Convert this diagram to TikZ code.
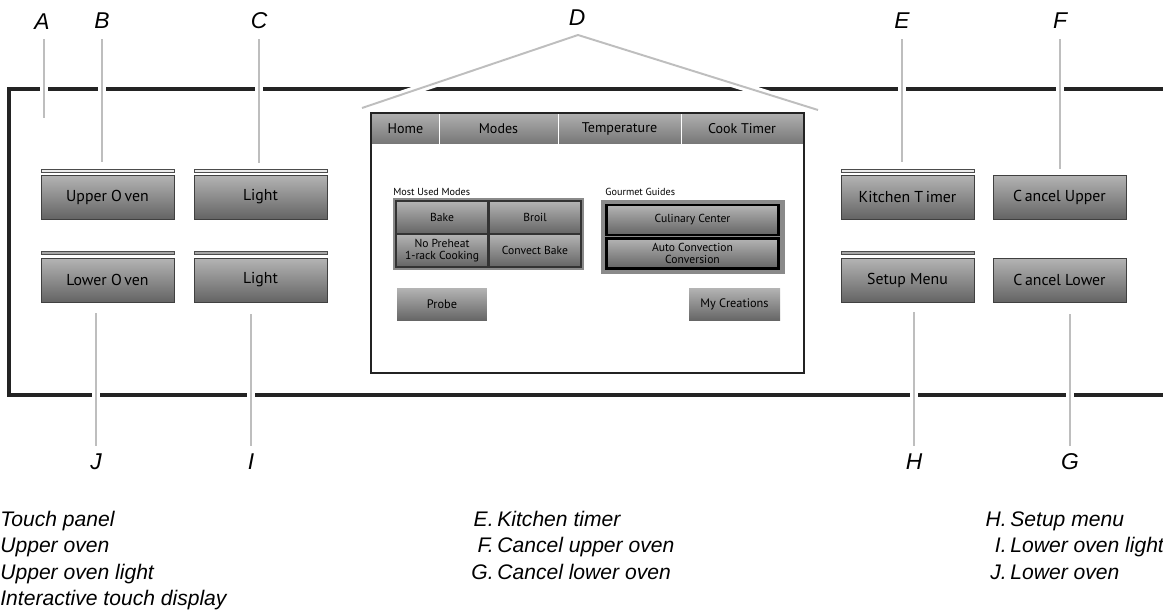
\documentclass[tikz,border=0pt]{standalone}
\usepackage{fontspec}
\setmainfont{Liberation Sans}
\newfontfamily\btnfont{PT Sans}
\usepackage{tikz}
\usepackage{xcolor}
\usetikzlibrary{positioning, calc}

\definecolor{btntop}{HTML}{B4B4B4}
\definecolor{btnbot}{HTML}{646464}
\definecolor{tabtop}{HTML}{B0B0B0}
\definecolor{tabbot}{HTML}{767676}
\definecolor{leadgray}{HTML}{BEBEBE}
\definecolor{groupgray}{HTML}{8A8A8A}
\definecolor{framegray}{HTML}{232323}

\begin{document}
\begin{tikzpicture}[x=0.02cm, y=-0.02cm,
  lab/.style={font=\itshape\fontsize{13}{15}\selectfont, inner sep=0pt},
  leg/.style={font=\itshape\fontsize{12}{14}\selectfont, inner sep=0pt},
  lead/.style={draw=leadgray, line width=1.1pt, line join=round,
    preaction={draw=white, line width=4.6pt}},
  btn/.style={draw=black!75, line width=0.5pt, top color=btntop, bottom color=btnbot,
    font=\btnfont\fontsize{9}{10}\selectfont, minimum width=2.66cm, minimum height=0.88cm, inner sep=0pt},
  barlight/.style={draw=black!70, fill=gray!15, line width=0.4pt, minimum width=2.66cm, minimum height=0.06cm, inner sep=0pt},
  bardark/.style={draw=black!70, fill=gray!70, line width=0.4pt, minimum width=2.66cm, minimum height=0.06cm, inner sep=0pt},
  tab/.style={top color=tabtop, bottom color=tabbot, minimum height=0.62cm, inner sep=0pt,
    font=\btnfont\fontsize{8}{9}\selectfont},
  minibtn/.style={draw=black!80, line width=0.6pt, top color=btntop, bottom color=btnbot,
    minimum width=1.84cm, minimum height=0.66cm, inner sep=0pt, align=center,
    font=\btnfont\fontsize{6.6}{7.2}\selectfont},
  guidebtn/.style={draw=black, line width=1.6pt, top color=btntop, bottom color=btnbot,
    minimum width=3.44cm, minimum height=0.6cm, inner sep=0pt, align=center,
    font=\btnfont\fontsize{6.6}{7.2}\selectfont},
  grouplbl/.style={font=\btnfont\fontsize{5.8}{6.5}\selectfont, inner sep=0pt, anchor=west}]
\useasboundingbox (0,0) rectangle (1163,611);
\clip (0,0) rectangle (1163,611);

% Panel frame
\draw[framegray, line width=1.8pt] (1170,89) -- (9,89) -- (9,395) -- (1170,395);

% Left buttons
\node[barlight] (upperbar) at (107.5,170.5) {};
\node[barlight] (lightbar) at (260.5,170.5) {};
\node[btn] (upperoven) at (107.5,197) {Upper O\,ven};
\node[btn] (upperlight) at (260.5,197) {Light};
\node[bardark] (lowerbar) at (107.5,253) {};
\node[bardark] (lowlightbar) at (260.5,253) {};
\node[btn] (loweroven) at (107.5,280) {Lower O\,ven};
\node[btn] (lowerlight) at (260.5,280) {Light};

% Right buttons
\node[barlight] (timerbar) at (907.5,170.5) {};
\node[btn] (kitchentimer) at (907.5,197) {Kitchen T\,imer};
\node[btn] (cancelupper) at (1059.5,197) {C\,ancel Upper};
\node[bardark] (setupbar) at (907.5,253) {};
\node[btn] (setupmenu) at (907.5,280) {Setup Menu};
\node[btn] (cancellower) at (1059.5,280) {C\,ancel Lower};

% Touch display
\node[tab, minimum width=1.34cm] (tabhome) at (405.5,128.5) {Home};
\node[tab, minimum width=2.38cm] (tabmodes) at (498.5,128.5) {Modes};
\node[tab, minimum width=2.46cm] (tabtemp) at (619.5,128.5) {Temperature};
\node[tab, minimum width=2.44cm] (tabtimer) at (742,128.5) {Cook Timer};
\draw[white, line width=0.8pt] (tabhome.north east) -- (tabhome.south east);
\draw[white, line width=0.8pt] (tabmodes.north east) -- (tabmodes.south east);
\draw[white, line width=0.8pt] (tabtemp.north east) -- (tabtemp.south east);
\node[draw=framegray, line width=1.2pt, minimum width=8.66cm, minimum height=5.2cm, inner sep=0pt] (display) at (587.5,243) {};

\node[grouplbl] (modeslbl) at (393,192) {Most Used Modes};
\node[fill=groupgray, minimum width=3.82cm, minimum height=1.44cm, inner sep=0pt] (modesbox) at (488.5,234) {};
\node[minibtn] (bake) at (442,217.5) {Bake};
\node[minibtn] (broil) at (535,217.5) {Broil};
\node[minibtn] (nopreheat) at (442,250.5) {No Preheat\\1-rack Cooking};
\node[minibtn] (convect) at (535,250.5) {Convect Bake};

\node[grouplbl] (guideslbl) at (605,192) {Gourmet Guides};
\node[fill=groupgray, minimum width=3.68cm, minimum height=1.48cm, inner sep=0pt] (guidesbox) at (693,237) {};
\node[guidebtn] (culinary) at (692.5,220) {Culinary Center};
\node[guidebtn] (autoconv) at (692.5,253.5) {Auto Convection\\Conversion};

\node[minibtn, draw=none, minimum width=1.8cm, font=\btnfont\fontsize{7}{8}\selectfont] (probe) at (442,304.5) {Probe};
\node[minibtn, draw=none, minimum width=1.82cm, font=\btnfont\fontsize{7}{8}\selectfont] (mycreations) at (734.5,304.5) {My Creations};

% Letter labels
\node[lab] (labA) at (42,22) {A};
\node[lab] (labB) at (102,21) {B};
\node[lab] (labC) at (259,21) {C};
\node[lab] (labD) at (577,18) {D};
\node[lab] (labE) at (902,21) {E};
\node[lab] (labF) at (1060,21) {F};
\node[lab] (labJ) at (96,462) {J};
\node[lab] (labI) at (251,462) {I};
\node[lab] (labH) at (914,462) {H};
\node[lab] (labG) at (1070,462) {G};

% Leader lines
\coordinate (panelpt) at (44,118);
\coordinate (dapex) at (578,35);
\coordinate (dleft) at (362,108);
\coordinate (dright) at (818,110);
\draw[lead, shorten <=0.18cm] (labA.south -| panelpt) -- (panelpt);
\draw[lead, shorten <=0.2cm, shorten >=0.14cm] (labB.south) -- (labB.south |- upperbar.north);
\draw[lead, shorten <=0.2cm, shorten >=0.12cm] (labC.south) -- (labC.south |- lightbar.north);
\draw[lead] (dleft) -- (dapex) -- (dright);
\draw[lead, shorten <=0.2cm, shorten >=0.14cm] (labE.south) -- (labE.south |- timerbar.north);
\draw[lead, shorten <=0.2cm, shorten >=0.12cm] (labF.south) -- (labF.south |- cancelupper.north);
\draw[lead, shorten <=0.22cm, shorten >=0.16cm] (labJ.north |- loweroven.south) -- (labJ.north);
\draw[lead, shorten <=0.24cm, shorten >=0.16cm] (labI.north |- lowerlight.south) -- (labI.north);
\draw[lead, shorten <=0.2cm, shorten >=0.16cm] (labH.north |- setupmenu.south) -- (labH.north);
\draw[lead, shorten <=0.24cm, shorten >=0.16cm] (labG.north |- cancellower.south) -- (labG.north);

% Legend
\node[leg, anchor=base west] (legA) at (0,526) {Touch panel};
\node[leg, anchor=base west] (legB) at (0,552.5) {Upper oven};
\node[leg, anchor=base west] (legC) at (0,579) {Upper oven light};
\node[leg, anchor=base west] (legD) at (0,605.5) {Interactive touch display};

\node[leg, anchor=base east] (keyE) at (494,526) {E.};
\node[leg, anchor=base west] (legE) at (497,526) {Kitchen timer};
\node[leg, anchor=base east] (keyF) at (494,552.5) {F.};
\node[leg, anchor=base west] (legF) at (497,552.5) {Cancel upper oven};
\node[leg, anchor=base east] (keyG) at (494,579) {G.};
\node[leg, anchor=base west] (legG) at (497,579) {Cancel lower oven};

\node[leg, anchor=base east] (keyH) at (1007,526) {H.};
\node[leg, anchor=base west] (legH) at (1010,526) {Setup menu};
\node[leg, anchor=base east] (keyI) at (1007,552.5) {I.};
\node[leg, anchor=base west] (legI) at (1010,552.5) {Lower oven light};
\node[leg, anchor=base east] (keyJ) at (1007,579) {J.};
\node[leg, anchor=base west] (legJ) at (1010,579) {Lower oven};
\end{tikzpicture}
\end{document}
